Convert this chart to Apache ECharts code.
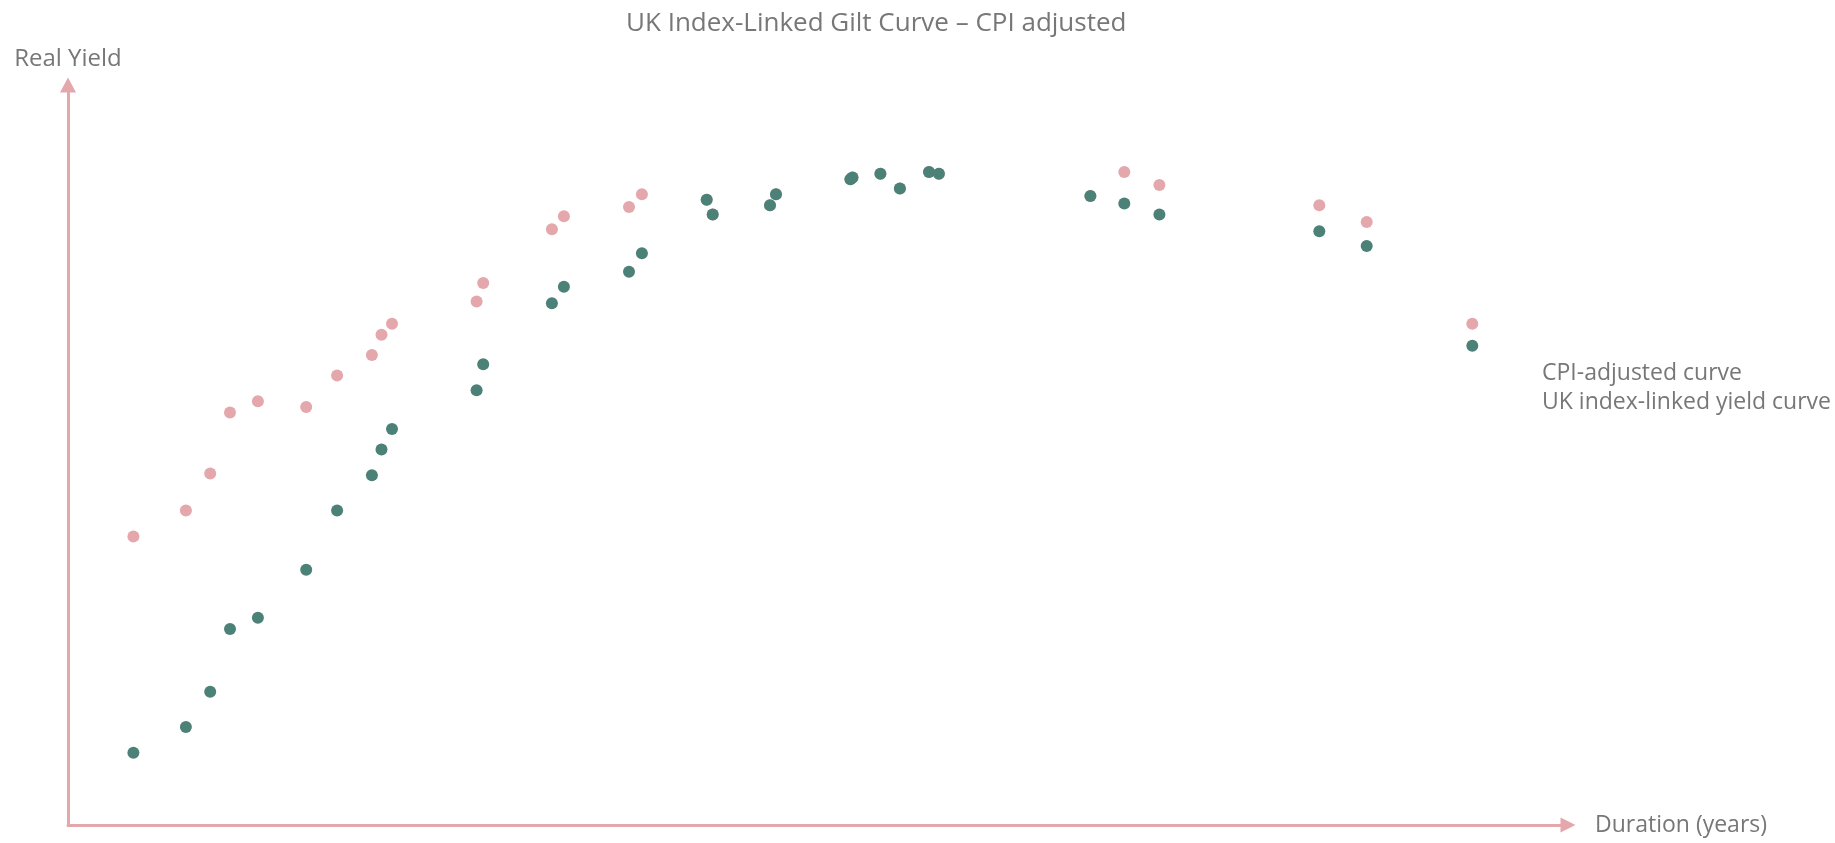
<!DOCTYPE html>
<html>
<head>
<meta charset="utf-8">
<title>UK Index-Linked Gilt Curve</title>
<script src="https://cdn.jsdelivr.net/npm/echarts@6/dist/echarts.min.js"></script>
<style>
  html, body { margin: 0; padding: 0; background: #fff; }
  #chart { width: 1835px; height: 843px; }
</style>
</head>
<body>
<div id="chart"></div>
<script>
// duration (years) of each gilt
const durations = [2.18, 3.93, 4.74, 5.40, 6.33, 7.94, 8.97, 10.13, 10.45, 10.80,
  13.62, 13.84, 16.13, 16.53, 18.70, 19.13, 21.29, 21.49, 23.40, 23.60,
  26.08, 26.15, 27.08, 27.73, 28.70, 29.03, 34.08, 35.21, 36.38, 41.71, 43.29, 46.81]

// real yield of the UK index-linked curve
const linkedYield = [-2.61, -2.47, -2.28, -1.94, -1.88, -1.62, -1.30, -1.11, -0.97, -0.86,
  -0.65, -0.51, -0.18, -0.09, -0.01, 0.09, 0.38, 0.30, 0.35, 0.41,
  0.49, 0.50, 0.52, 0.44, 0.53, 0.52, 0.40, 0.36, 0.30, 0.21, 0.13, -0.41]

// real yield after the CPI adjustment (the middle ones sit under the green dots)
const cpiAdjYield = [-1.44, -1.30, -1.10, -0.77, -0.71, -0.74, -0.57, -0.46, -0.35, -0.29,
  -0.17, -0.07, 0.22, 0.29, 0.34, 0.41, 0.38, 0.30, 0.35, 0.41,
  0.49, 0.50, 0.52, 0.44, 0.53, 0.52, 0.40, 0.53, 0.46, 0.35, 0.26, -0.29]

const seriesNames = ['CPI-adjusted curve', 'UK index-linked yield curve']

const pink = '#E4A7AB'
const green = '#4C8178'
const textGrey = '#777777'
const font = 'Open Sans'

const toPairs = (ys) => durations.map((d, i) => [d, ys[i]])

const chart = echarts.init(document.getElementById('chart'))

// shared look of both axes: a pink line with an arrow head, nothing else
const axisLine = (size) => ({
  show: true,
  onZero: false,
  symbol: ['none', 'triangle'],
  symbolSize: size,
  lineStyle: { color: pink, width: 3 }
})

const option = {
  animation: false,
  title: {
    text: 'UK Index-Linked Gilt Curve – CPI adjusted',
    left: 626,
    top: 11,
    padding: 0,
    textStyle: { fontFamily: font, fontSize: 26, fontWeight: 'normal', color: textGrey }
  },
  legend: {
    orient: 'vertical',
    left: 1532,
    top: 357,
    icon: 'none',
    itemWidth: 0,
    itemGap: 6,
    selectedMode: false,
    textStyle: { fontFamily: font, fontSize: 23, color: textGrey },
    data: seriesNames
  },
  grid: { left: 68, right: 267, top: 85, bottom: 18 },
  xAxis: {
    type: 'value',
    min: 0,
    max: 50,
    name: 'Duration (years)',
    nameLocation: 'end',
    nameGap: 27,
    nameTextStyle: { fontFamily: font, fontSize: 23, color: textGrey, padding: [30, 0, 0, 0] },
    axisLine: axisLine([15, 15]),
    axisTick: { show: false },
    axisLabel: { show: false },
    splitLine: { show: false }
  },
  yAxis: {
    type: 'value',
    min: -3,
    max: 1,
    name: 'Real Yield',
    nameLocation: 'end',
    nameGap: 14,
    nameTextStyle: { fontFamily: font, fontSize: 24, color: textGrey },
    axisLine: axisLine([16, 15]),
    axisTick: { show: false },
    axisLabel: { show: false },
    splitLine: { show: false }
  },
  series: [
    {
      name: seriesNames[0],
      type: 'scatter',
      symbolSize: 12,
      itemStyle: { color: pink, opacity: 1 },
      data: toPairs(cpiAdjYield)
    },
    {
      name: seriesNames[1],
      type: 'scatter',
      symbolSize: 12,
      itemStyle: { color: green, opacity: 1 },
      data: toPairs(linkedYield)
    }
  ]
}

chart.setOption(option)
</script>
</body>
</html>
